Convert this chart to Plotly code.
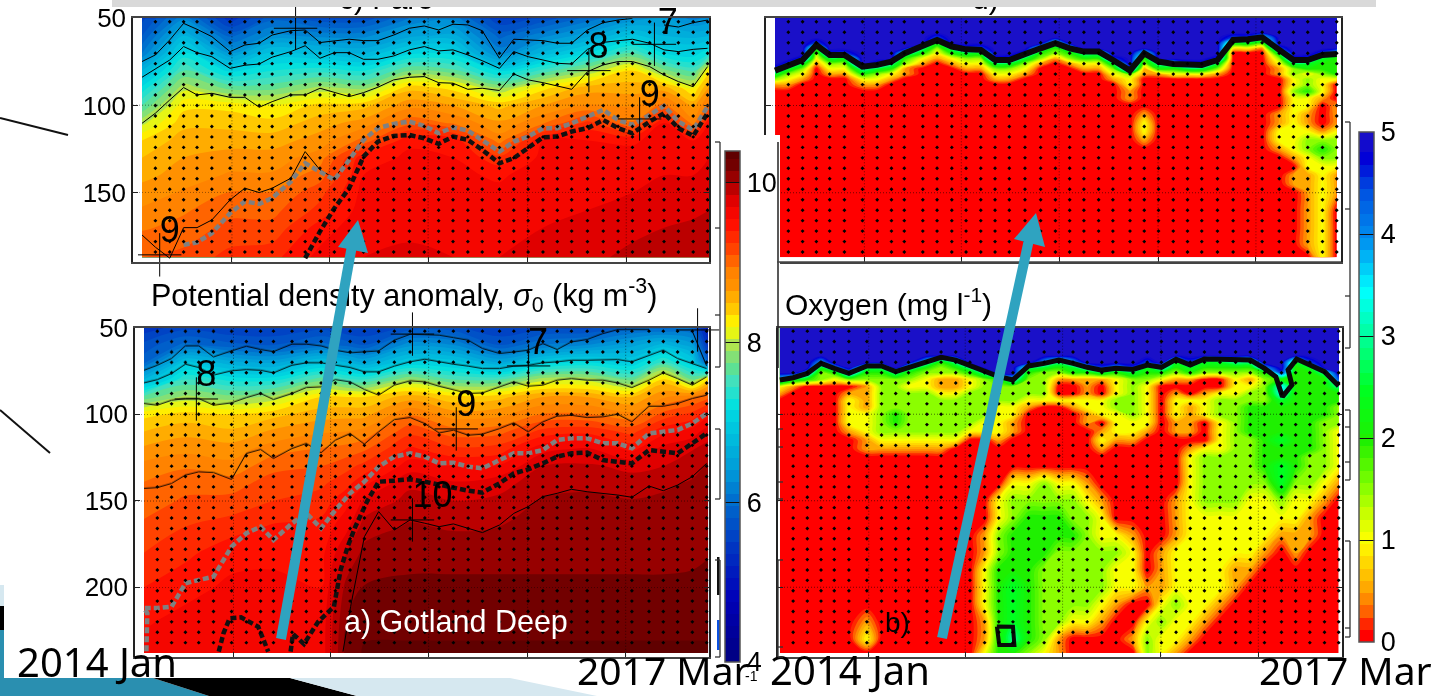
import numpy as np
import plotly.graph_objects as go

W, H = 1443, 696

# ---------- shared sampling ----------
cast_days = [0, 28, 58, 87, 115, 146, 184, 215, 245, 272, 311, 341, 372, 402, 433, 463, 493, 526, 559, 590,
             620, 650, 681, 711, 747, 777, 807, 838, 868, 898, 931, 964, 995, 1025, 1061, 1091, 1121, 1152, 1182]
sample_depths_shallow = [52, 58, 64, 70, 76, 82, 88, 94, 100, 106, 112, 118, 124, 130, 136, 142, 148, 154, 160,
                         166, 172, 178, 184]
sample_depths_deep = sample_depths_shallow + [190, 196, 202, 208, 214, 220, 226, 232]
tick_days = [188, 392, 598, 806, 1012]
density_ticks = [4, 6, 8, 10]
oxygen_ticks = [0, 1, 2, 3, 4, 5]

# ---------- density fields (columns of sigma-0 by depth) ----------
faro_density_days = [0, 87, 184, 272, 372, 463, 559, 650, 747, 838, 931, 1025, 1091, 1152, 1185]
faro_density_depths = [50, 60, 70, 80, 90, 100, 110, 120, 130, 140, 150, 160, 170, 187]
faro_density = [
    [5.6, 5.8, 6.1, 6.7, 7.2, 7.6, 8, 8.35, 8.5, 8.6, 8.72, 8.82, 8.93, 9.1],
    [6.2, 6.7, 7.2, 7.6, 8, 8.3, 8.45, 8.58, 8.65, 8.72, 8.82, 8.93, 9, 9.15],
    [5.4, 5.9, 6.4, 7.1, 7.7, 8.3, 8.45, 8.58, 8.72, 8.82, 8.96, 9.05, 9.15, 9.3],
    [5.9, 6.3, 6.9, 7.3, 7.7, 8.2, 8.4, 8.58, 8.72, 8.82, 8.96, 9.05, 9.15, 9.35],
    [5.7, 6.2, 6.8, 7.4, 7.95, 8.4, 8.58, 8.72, 8.88, 9.03, 9.2, 9.3, 9.47, 9.6],
    [5.7, 6.2, 6.7, 7.3, 7.85, 8.45, 8.72, 9, 9.5, 9.55, 9.6, 9.63, 9.66, 9.7],
    [6.1, 6.5, 7.1, 7.75, 8.45, 8.75, 9.05, 9.53, 9.57, 9.6, 9.62, 9.65, 9.68, 9.72],
    [6.2, 6.6, 7.1, 7.65, 8.3, 8.65, 8.93, 9.5, 9.55, 9.58, 9.6, 9.63, 9.66, 9.7],
    [5.5, 5.9, 6.2, 7.1, 7.9, 8.45, 8.68, 8.88, 9.3, 9.53, 9.58, 9.62, 9.66, 9.7],
    [5.7, 6.2, 6.75, 7.5, 8.3, 8.65, 8.93, 9.55, 9.6, 9.62, 9.65, 9.68, 9.7, 9.75],
    [6, 6.5, 7.15, 7.9, 8.58, 8.82, 9.3, 9.55, 9.6, 9.63, 9.65, 9.7, 9.75, 9.8],
    [6.3, 6.9, 7.6, 8.35, 8.58, 8.78, 8.97, 9.53, 9.6, 9.65, 9.7, 9.75, 9.8, 9.9],
    [6.4, 6.7, 7.15, 7.8, 8.58, 9, 9.55, 9.6, 9.65, 9.7, 9.75, 9.8, 9.85, 9.95],
    [6.2, 6.65, 7.05, 7.55, 8.2, 8.6, 8.88, 9.55, 9.6, 9.7, 9.75, 9.8, 9.9, 10],
    [6.3, 6.7, 7.3, 8.3, 8.68, 9, 9.55, 9.6, 9.7, 9.75, 9.8, 9.85, 9.9, 10],
]
gotland_density_days = [0, 87, 184, 272, 372, 425, 463, 559, 650, 747, 838, 931, 1025, 1091, 1152, 1185]
gotland_density_depths = [50, 60, 70, 80, 90, 100, 110, 120, 130, 140, 150, 165, 180, 200, 220, 238]
gotland_density = [
    [5.4, 5.7, 5.9, 6.7, 7.65, 8.3, 8.5, 8.68, 8.85, 8.96, 9.03, 9.13, 9.25, 9.4, 9.53, 9.6],
    [5.6, 6, 6.9, 7.45, 7.95, 8.4, 8.6, 8.75, 8.93, 9.05, 9.12, 9.25, 9.36, 9.5, 9.6, 9.6],
    [5.5, 5.85, 6.6, 7.25, 7.8, 8.35, 8.53, 8.72, 8.85, 9.03, 9.15, 9.33, 9.5, 9.58, 9.62, 9.62],
    [5.5, 5.8, 6.5, 7.25, 7.95, 8.45, 8.68, 8.88, 9.05, 9.18, 9.25, 9.42, 9.52, 9.58, 9.6, 9.6],
    [5.6, 6, 6.9, 7.7, 8.35, 8.58, 8.78, 8.96, 9.1, 9.22, 9.32, 9.45, 9.5, 9.55, 9.6, 9.6],
    [5.5, 5.9, 6.7, 7.5, 8.35, 8.6, 8.8, 9, 9.2, 9.35, 9.5, 9.65, 9.85, 10.05, 10.15, 10.2],
    [5.5, 5.8, 6.55, 7.45, 8.35, 8.6, 8.85, 9.07, 9.3, 9.52, 9.73, 9.92, 10.05, 10.16, 10.26, 10.32],
    [5.7, 6.35, 7, 7.9, 8.58, 8.93, 9.2, 9.43, 9.63, 9.82, 9.9, 10.02, 10.1, 10.18, 10.27, 10.32],
    [5.7, 6.25, 6.95, 7.6, 8.4, 8.72, 9.02, 9.28, 9.55, 9.72, 9.85, 9.98, 10.1, 10.18, 10.27, 10.32],
    [5.5, 5.8, 6.55, 7.6, 8.45, 8.75, 9.05, 9.32, 9.57, 9.8, 9.88, 10, 10.1, 10.18, 10.27, 10.32],
    [5.6, 6.1, 7, 8, 8.65, 8.96, 9.3, 9.65, 9.85, 9.93, 10.02, 10.05, 10.1, 10.18, 10.27, 10.32],
    [5.6, 6.25, 7.15, 8, 8.65, 8.96, 9.35, 9.72, 9.87, 9.97, 10.03, 10.05, 10.1, 10.18, 10.27, 10.32],
    [5.9, 6.5, 7, 7.7, 8.5, 8.85, 9.2, 9.5, 9.82, 9.9, 10.01, 10.04, 10.1, 10.18, 10.27, 10.32],
    [5.9, 6.75, 7.5, 8.4, 8.78, 9.15, 9.5, 9.75, 9.85, 9.97, 10.03, 10.05, 10.1, 10.18, 10.27, 10.32],
    [5.9, 6.45, 7, 7.75, 8.93, 9.3, 9.62, 9.84, 9.94, 10.02, 10.05, 10.07, 10.12, 10.18, 10.27, 10.32],
    [5.1, 5.4, 5.8, 8.4, 9.05, 9.52, 9.78, 9.9, 10.02, 10.05, 10.07, 10.1, 10.14, 10.2, 10.27, 10.32],
]

# ---------- oxygen fields (rows by depth, columns = cast_days, in units of 0.5 mg/l) ----------
faro_oxygen_depths = [50, 55, 58, 61, 64, 67, 70, 73, 76, 79, 82, 85, 88, 92, 96, 100, 105, 110, 115, 120, 125,
                      130, 135, 140, 145, 150, 160, 170, 180, 187]
faro_oxygen = [
    [10] * 39, [10] * 39, [10] * 39,
    [10] * 11 + [9] + [10] * 19 + [9, 9, 7] + [10] * 5,
    [10, 10, 10, 9, 10, 10, 10, 10, 10, 10, 10, 5, 10, 10, 10, 10, 10, 10, 10, 7, 10, 10, 10, 10, 10, 10, 10, 10, 10, 10, 10, 5, 5, 4, 10, 10, 10, 10, 10],
    [10, 10, 10, 5, 10, 10, 10, 10, 10, 10, 6, 3, 6, 9, 9, 10, 10, 10, 7, 4, 7, 10, 10, 10, 10, 10, 10, 10, 10, 10, 10, 2, 2, 1, 9, 10, 10, 10, 10],
    [10, 10, 10, 3, 9, 9, 10, 10, 10, 7, 4, 2, 4, 5, 5, 10, 10, 9, 4, 3, 4, 6, 6, 10, 10, 7, 10, 10, 10, 10, 10, 0, 0, 0, 5, 10, 10, 9, 7],
    [10, 10, 9, 2, 5, 5, 10, 10, 10, 4, 2, 1, 2, 3, 3, 9, 9, 5, 3, 1, 3, 4, 4, 9, 10, 4, 10, 10, 10, 10, 9, 0, 0, 0, 3, 9, 9, 5, 4],
    [10, 9, 5, 1, 3, 3, 10, 9, 6, 3, 1, 0, 1, 2, 2, 5, 5, 3, 1, 0, 1, 2, 2, 5, 10, 3, 6, 7, 9, 9, 5, 0, 0, 0, 2, 5, 5, 4, 4],
    [9, 5, 3, 0, 2, 2, 6, 5, 4, 1, 0, 0, 0, 1, 1, 3, 3, 2, 0, 0, 0, 1, 1, 3, 9, 1, 4, 4, 5, 5, 3, 0, 0, 0, 1, 3, 4, 4, 4],
    [5, 3, 2, 0, 1, 1, 4, 3, 2, 1, 0, 0, 0, 0, 0, 2, 2, 1, 0, 0, 0, 0, 0, 2, 3, 1, 1, 2, 2, 2, 1, 0, 0, 0, 1, 3, 2, 3, 4],
    [3, 2, 1, 0, 0, 0, 2, 2, 1, 0, 0, 0, 0, 0, 0, 1, 1, 0, 0, 0, 0, 0, 0, 1, 2, 0, 0, 0, 0, 0, 0, 0, 0, 0, 0, 2, 3, 2, 2],
    [1, 1, 0, 0, 0, 0, 1, 1, 0, 0, 0, 0, 0, 0, 0, 0, 0, 0, 0, 0, 0, 0, 0, 0, 2, 0, 0, 0, 0, 0, 0, 0, 0, 0, 0, 2, 3, 2, 0],
    [0] * 24 + [1] + [0] * 8 + [0, 0, 3, 4, 2, 0],
    [0] * 24 + [1] + [0] * 8 + [0, 0, 2, 2, 1, 0],
    [0] * 33 + [0, 0, 2, 2, 0, 1],
    [0] * 25 + [1] + [0] * 7 + [0, 1, 2, 1, 0, 1],
    [0] * 25 + [2] + [0] * 7 + [0, 1, 2, 1, 0, 1],
    [0] * 25 + [2] + [0] * 7 + [0, 2, 2, 2, 1, 2],
    [0] * 25 + [1] + [0] * 7 + [0, 2, 2, 3, 3, 3],
    [0] * 33 + [0, 1, 2, 3, 4, 3],
    [0] * 33 + [0, 0, 1, 2, 3, 3],
    [0] * 33 + [0, 0, 0, 2, 2, 2],
    [0] * 33 + [0, 0, 1, 1, 2, 1],
    [0] * 33 + [0, 0, 1, 1, 2, 1],
    [0] * 33 + [0, 0, 0, 1, 2, 1],
    [0] * 33 + [0, 0, 0, 1, 2, 0],
    [0] * 33 + [0, 0, 0, 1, 2, 0],
    [0] * 33 + [0, 0, 0, 1, 2, 0],
    [0] * 33 + [0, 0, 0, 0, 2, 0],
]
gotland_oxygen_depths = [50, 60, 66, 70, 73, 76, 80, 84, 88, 92, 96, 100, 105, 110, 115, 120, 125, 130, 140, 150,
                         160, 170, 180, 190, 200, 210, 220, 230, 238]
gotland_oxygen = [
    [10] * 39, [10] * 39, [10] * 39,
    [10, 10, 10, 8, 10, 10, 10, 10, 10, 10, 7, 4, 6, 10, 10, 10, 10, 10, 8, 6, 8, 10, 10, 10, 10, 9, 10, 5, 9, 5, 5, 6, 6, 10, 10, 5, 9, 10, 10],
    [10, 10, 10, 5, 8, 10, 6, 6, 10, 7, 4, 3, 4, 6, 10, 10, 10, 6, 5, 4, 5, 7, 9, 8, 9, 5, 7, 4, 5, 4, 4, 4, 4, 8, 10, 4, 5, 10, 10],
    [10, 10, 8, 3, 4, 8, 4, 4, 6, 4, 3, 3, 3, 4, 6, 10, 10, 4, 3, 3, 4, 4, 5, 4, 5, 4, 4, 3, 4, 3, 3, 3, 3, 4, 9, 4, 4, 6, 10],
    [7, 5, 4, 3, 2, 3, 3, 3, 3, 3, 2, 1, 1, 2, 3, 4, 7, 3, 3, 1, 1, 1, 1, 2, 3, 3, 2, 1, 1, 0, 0, 2, 1, 3, 4, 4, 4, 4, 9],
    [2, 1, 0, 0, 0, 0, 1, 3, 3, 2, 2, 1, 1, 2, 3, 3, 3, 3, 3, 0, 0, 1, 0, 2, 3, 2, 0, 0, 0, 0, 0, 2, 2, 3, 7, 4, 4, 4, 6],
    [1, 0, 0, 0, 0, 1, 1, 3, 3, 3, 3, 2, 2, 3, 3, 3, 3, 3, 3, 0, 0, 1, 0, 2, 3, 2, 0, 1, 0, 1, 2, 2, 3, 3, 7, 4, 4, 4, 4],
    [0, 0, 0, 0, 0, 2, 1, 3, 3, 3, 3, 3, 3, 3, 3, 3, 3, 2, 2, 2, 2, 2, 2, 3, 3, 2, 0, 2, 2, 2, 3, 3, 3, 3, 5, 4, 4, 4, 4],
    [0, 0, 0, 0, 0, 2, 1, 3, 3, 3, 3, 3, 3, 3, 3, 2, 2, 1, 0, 0, 1, 2, 2, 3, 3, 2, 0, 2, 1, 2, 3, 3, 4, 4, 4, 4, 4, 4, 3],
    [0, 0, 0, 0, 0, 2, 2, 3, 4, 3, 3, 3, 3, 3, 3, 2, 2, 0, 0, 0, 0, 1, 2, 2, 3, 2, 0, 2, 1, 2, 3, 3, 4, 4, 4, 4, 4, 4, 3],
    [0, 0, 0, 0, 0, 2, 2, 3, 4, 3, 3, 3, 3, 3, 2, 2, 1, 0, 0, 0, 0, 1, 0, 2, 2, 2, 0, 1, 1, 0, 2, 3, 4, 4, 4, 4, 4, 3, 3],
    [0, 0, 0, 0, 0, 1, 2, 3, 3, 3, 3, 3, 3, 2, 2, 2, 1, 0, 0, 0, 0, 0, 1, 2, 2, 1, 0, 1, 1, 0, 2, 3, 4, 4, 4, 4, 4, 3, 2],
    [0, 0, 0, 0, 0, 0, 1, 2, 2, 2, 2, 2, 2, 0, 0, 1, 0, 0, 0, 0, 0, 0, 2, 1, 1, 0, 0, 0, 0, 0, 2, 3, 3, 4, 5, 4, 4, 3, 2],
    [0, 0, 0, 0, 0, 0, 1, 1, 1, 1, 1, 1, 0, 0, 0, 0, 0, 0, 0, 0, 0, 0, 1, 0, 0, 0, 0, 0, 1, 2, 2, 3, 3, 4, 4, 4, 4, 3, 2],
    [0] * 28 + [2, 3, 3, 3, 3, 4, 4, 4, 3, 3, 2],
    [0] * 28 + [2, 3, 3, 3, 3, 4, 5, 4, 3, 3, 2],
    [0] * 16 + [2, 2, 3, 2, 2, 1] + [0] * 6 + [2, 3, 3, 3, 3, 3, 5, 3, 3, 2, 1],
    [0] * 15 + [2, 3, 3, 3, 3, 3, 2, 1] + [0] * 4 + [1, 2, 3, 3, 3, 2, 2, 3, 2, 2, 1, 0],
    [0] * 15 + [2, 3, 4, 4, 4, 3, 3, 2] + [0] * 4 + [1, 2, 2, 2, 2, 2, 2, 2, 2, 1, 0, 0],
    [0] * 14 + [1, 3, 4, 4, 4, 4, 4, 3, 2, 2, 1, 0, 0, 1, 2, 2, 2, 2, 2, 2, 1, 1, 1, 0, 0],
    [0] * 14 + [1, 3, 4, 4, 4, 3, 3, 3, 3, 3, 2, 0, 1, 2, 2, 2, 2, 2, 2, 1, 0, 1, 0, 0, 0],
    [0] * 14 + [2, 4, 4, 4, 3, 3, 3, 3, 3, 2, 2, 0, 1, 2, 2, 2, 2, 1, 1] + [0] * 6,
    [0] * 14 + [2, 4, 5, 4, 3, 3, 3, 3, 3, 2, 2, 1, 1, 2, 2, 2, 2, 1] + [0] * 7,
    [0] * 14 + [2, 4, 5, 4, 3, 3, 3, 3, 2, 1, 0, 0, 2, 3, 2, 2, 1] + [0] * 8,
    [0, 0, 0, 0, 0, 0, 1, 0, 0, 0, 0, 0, 0, 0] + [1, 4, 5, 4, 3, 3, 2, 2, 1, 0, 0, 2, 3, 2, 2, 1] + [0] * 9,
    [0, 0, 0, 0, 0, 0, 2, 0, 0, 0, 0, 0, 0, 0] + [1, 4, 6, 4, 3, 1, 0, 0, 0, 0, 1, 3, 2, 2, 1] + [0] * 10,
    [0] * 14 + [2, 4, 4, 3, 2, 1, 0, 0, 0, 0, 0, 3, 2, 1, 0] + [0] * 10,
]

# ---------- contour lines: depth at each cast ----------
N = None
faro_line_a = [74.8, 71, 62.4, 52.9, 56.3, 60.5, 69.1, 65.3, 64.3, 59.6, 57.1, 56.7, 63.9, 62.8, 62, 62.8, 62.8, 59.6, 55.7, 54.4,
               56.7, 53.4, 53.8, 57.1, 72.9, 62, 62.4, 62.8, 64.3, 64.3, 56.7, 52.5, 51, 50, N, 53.8, 55, 52.5, 51]
faro_line_b = [83.8, 79.2, 73.9, 66.2, 69.7, 72, 78.7, 76.9, 76.2, 72.3, 69.1, 65.7, 72.9, 69.7, 69.7, 73.5, 73.5, 71.6, 68.1, 66.2,
               68.7, 68.1, 71, 74.3, 78.7, 69.1, 72, 73.9, 75.8, 76.2, 67.8, 63.8, 63, 62, 64.3, 68.1, 69.1, 67.8, 67.2]
faro_line_c = [110.2, 104.4, 96.8, 89.7, 93.9, 93, 95.3, 95.3, 101, 97.8, 93.9, 93.9, 90.1, 92.6, 94.9, 92.6, 89.5, 85.3, 83.8, 83.4,
               86.9, 87.2, 90.7, 90.1, 91.4, 81.9, 85.3, 86.9, 88.8, 90.7, 80.6, 76.7, 74.8, 74.8, 77.7, 82.5, 86.3, 89.2, 77.7]
faro_line_d = [174.2, 181.2, 187.5, 170, 170, 165.6, 154.1, 147.4, 149.9, 147.4, 141.7, 126.4, 136.9, 141.7, 130.2, 119.2]
faro_gray = [N, N, N, 179.9, 178.5, 173.2, 161.7, 155, 156.4, 153.1, 143.6, 133.1, 137.9, 142.6, 131.2, 119.7, 113, 110.5, 109.2, 111.7,
             115.9, 112.5, 114.4, 119.7, 126.4, 120.7, 117.8, 113, 113, 110.2, 106.3, 102.5, 108.3, 111.1, 105.4, 100.2, 109.2, 114, 100.6]
faro_black = [N] * 11 + [187.5, 172.2, 158.9, 147.4, 129.3, 120.7, 117.4, 116.9, 118.8, 122, 117.8, 119.7, 125.4, 133.1, 130.2, 124.5,
                         118.2, 117.8, 114.9, 113, 108.3, 113, 115.9, 109.2, 104.4, 113, 117.4, 104.4]

gotland_line_a = [74.5, 71.6, 67.7, 60.4, 60.4, 66.8, 63.3, 60.6, 62.5, 63.7, 59.4, 59.4, 60.4, 62.9, 64.4, 63.9, 63.3, 57.1, 53.7, 53.9,
                  54.2, 55.6, 57.1, 61.9, 64.8, 63.9, 62.9, 59.1, 62.5, 58.1, 56.7, 53.3, 51, 51, 51, N, N, 52, 72]
gotland_line_b = [81.8, 79.9, 76.4, 71, 72.9, 77.3, 74.8, 74.1, 74.5, 76, 71.6, 70.2, 70.2, 71.6, 72.9, 75.4, 75.4, 72.1, 69.6, 68.1,
                  69.6, 71, 72.1, 73.5, 73.5, 72.1, 71.6, 70.2, 69.6, 68.7, 68.7, 68.3, 68.3, 69.6, 65.8, 62.9, 67.7, 70.6, 73.5]
gotland_line_c = [93.7, 94.7, 91.8, 90.8, 90.8, 94.7, 93.3, 90.3, 87.9, 91.4, 87.9, 84.5, 84.1, 79.9, 81.2, 85.6, 88.9, 83.1, 80.6, 81.2,
                  83.7, 85.6, 87.9, 87.6, 84.1, 81.2, 83.7, 83.1, 80.2, 79.3, 80.2, 80.2, 81.8, 84.5, 80.2, 76, 79.3, 83.1, 78.3]
gotland_line_d = [142.8, 142.3, 139.9, 135.1, 133.2, 133.6, 137.6, 122.6, 120.3, 125.5, 119.7, 116.8, 122.2, 114.9, 111.1, 117.2, 110.1, 103, 101.8, 105.3,
                  110.7, 109.1, 112, 111.4, 108.2, 104.9, 110.1, 104.3, 101, 100.5, 101.8, 101.4, 99.9, 104.3, 95.3, 95.3, 93.7, 90.8, 88.9]
gotland_gray_days = [5, 7, 0] + cast_days[1:]
gotland_gray = [237, 215, 212, 212, 211.2, 197.7, 195.8, 193.9, 176.5, 168.8, 165, 172.7, 163.1, 157.3, 165.9, 155.4, 145.7, 139, 130.3, 124.5, 122.6,
                124.5, 128.4, 128, 130.3, 131.3, 126.5, 122.6, 122.6, 120.7, 114.9, 113.9, 113.9, 116.8, 116.8, 119.7, 111.1, 110.1, 109.1, 105.3, 99.5]
gotland_black1_days = [157, 167, 180, 204, 240, 261]
gotland_black1 = [237.2, 226.6, 217.9, 217.4, 222.8, 237.2]
gotland_black2_days = [308, 313, 336, 366, 399, 413, 428, 444, 470, 493, 526, 559, 590, 620, 650, 681, 711, 747, 777, 807, 838, 868, 898, 931, 964, 995, 1025,
                       1061, 1091, 1121, 1152, 1182]
gotland_black2 = [237.2, 227, 232.8, 219.9, 211.2, 190, 176.5, 165, 149.6, 139, 138.4, 137.6, 139, 140.9, 142.8, 144.2, 145.3, 139.9, 134.2, 131.9, 128.4, 124.5,
                  122.6, 122.2, 126.5, 127.4, 128.4, 120.7, 121.6, 122.6, 116.8, 111]
gotland_line_e_days = [418, 434, 463, 493, 526, 559, 590, 620, 650, 681, 711, 747, 777, 807, 838, 868, 898, 931, 964, 995, 1025, 1061, 1091, 1121, 1152, 1182]
gotland_line_e = [237.2, 211.2, 170.8, 156.3, 166.9, 161.1, 163, 165, 163.4, 165.9, 168.4, 164, 157.3, 153.4, 147.6, 145.7, 143.4, 144.8, 145.7, 146.7, 148,
                  141.5, 144.2, 140.9, 136.1, 128.4]

faro_oxy_line = [80, 76.7, 73.9, 65.3, 71, 71, 77.7, 76.7, 74.8, 70.1, 66.2, 62.4, 66.2, 67.8, 68.1, 73.9, 73.9, 71, 67.2, 64.3,
                 67.2, 69.1, 69.1, 73.9, 80, 70.1, 74.8, 76.2, 76.7, 76.7, 73.9, 62.4, 62, 60.9, 68.1, 73.9, 73.9, 71, 70.4]
gotland_oxy_days = cast_days[:34] + [1049, 1063, 1083, 1075, 1093, 1121, 1152, 1182]
gotland_oxy_line = [80.2, 78.9, 76.4, 70.6, 73.5, 76.4, 72.1, 72.1, 75.4, 72.9, 69.6, 67.1, 68.7, 72.1, 75.4, 78.3, 80.2, 72.1, 70.6, 68.7,
                    70.6, 72.9, 74.5, 73.5, 74.1, 71.6, 72.9, 68.3, 71.6, 68.1, 68.3, 68.7, 68.7, 73.5, 78.3, 89.9, 83.1, 74.4, 68.1, 71.6, 75.4, 83.7]
gotland_loop_days = [459, 493, 496, 464, 459]
gotland_loop_depths = [222.7, 222.8, 233.4, 233.4, 222.7]

# ---------- clabel crosses and labels ----------
faro_cross_days = [321, 1071, 934, 1040, 37]
faro_cross_depths = [55.7, 64.9, 80, 107.7, 185.6]
faro_label_days = [954, 1061, 58, 1099]
faro_label_depths = [67.8, 94.9, 173.2, 53.8]
faro_labels = ["8", "9", "9", "7"]
gotland_cross_days = [564, 1163, 808, 110, 656, 564]
gotland_cross_depths = [53.7, 51.3, 72.1, 91.2, 108.5, 161.1]
gotland_label_days = [828, 131, 677, 606]
gotland_label_depths = [60, 78.3, 96, 148.6]
gotland_labels = ["7", "8", "9", "10"]

# ---------- colour scales ----------
density_stops = [4, 4.8, 5.4, 6, 6.4, 7.1, 7.25, 7.57, 7.75, 8, 8.15, 8.27, 8.5, 8.77, 8.98, 9.27, 9.56, 9.8, 10, 10.2, 10.4]
density_colors = ["#000080", "#0000b8", "#0030c0", "#0068cc", "#0098d8", "#00d0e0", "#00e0e0", "#40e0c0", "#60e090", "#a0e060",
                  "#d8f020", "#ffff00", "#ffc800", "#ff9400", "#ff8000", "#ff4000", "#ff1000", "#f00000", "#c00000", "#900000", "#600000"]
oxygen_stops = [0, .12, .25, .5, .75, 1, 1.25, 1.5, 2, 2.5, 3, 3.5, 4, 4.5, 4.8, 5]
oxygen_colors = ["#ff0000", "#ff0000", "#ff5000", "#ffa000", "#ffd000", "#ffff00", "#d0ff00", "#90ff00", "#20f000", "#00ff20",
                 "#00ff90", "#00ffff", "#0090f0", "#0050e0", "#0000d8", "#1a10c8"]
density_scale = [[(v - 4) / 6.4, c] for v, c in zip(density_stops, density_colors)]
oxygen_scale = [[v / 5, c] for v, c in zip(oxygen_stops, oxygen_colors)]

LABEL_FONT = "Liberation Sans"
DATE_FONT = "Noto Sans"

fig = go.Figure()


def fx(p):
    return p / W


def fy(p):
    return 1 - p / H


# panel frames in page pixels; ranges in days / depth
panels = {
    "": dict(px=(133, 709), py=(18.3, 262), xr=[-18.8, 1185], yr=[189.7, 50], yt=[50, 100, 150], labels=True),
    "2": dict(px=(135, 709), py=(327.7, 657), xr=[-18.9, 1187], yr=[240.3, 50], yt=[50, 100, 150, 200], labels=True),
    "3": dict(px=(766, 1341), py=(18.3, 262), xr=[-19, 1191], yr=[189.7, 50], yt=[50, 100, 150], labels=False),
    "4": dict(px=(778, 1342), py=(327.7, 657), xr=[-4, 1189], yr=[240.3, 50], yt=[50, 100, 150, 200], labels=False),
}
layout_axes = {}
for k, p in panels.items():
    layout_axes["xaxis" + k] = dict(
        domain=[fx(p["px"][0]), fx(p["px"][1])], range=p["xr"], anchor="y" + k, tickvals=tick_days,
        showticklabels=False, ticks="inside", ticklen=5, tickcolor="#222", showgrid=False, zeroline=False,
        showline=True, linecolor="#444", linewidth=1.5, mirror=True)
    layout_axes["yaxis" + k] = dict(
        domain=[fy(p["py"][1]), fy(p["py"][0])], range=p["yr"], anchor="x" + k, tickvals=p["yt"],
        showticklabels=p["labels"], ticks="inside", ticklen=5, tickcolor="#222", showgrid=False, zeroline=False,
        showline=True, linecolor="#222", linewidth=1.5, mirror="ticks",
        tickfont=dict(family=LABEL_FONT, size=26, color="black"))
layout_axes["xaxis5"] = dict(domain=[0, 1], range=[0, W], anchor="y5", visible=False, fixedrange=True)
layout_axes["yaxis5"] = dict(domain=[0, 1], range=[H, 0], anchor="x5", visible=False, fixedrange=True)


def field(k, x, y, z, scale, zmin, zmax, size, cbar=None):
    fig.add_trace(go.Contour(
        x=x, y=y, z=z, xaxis="x" + k, yaxis="y" + k, colorscale=scale, zmin=zmin, zmax=zmax,
        contours=dict(start=zmin, end=zmax, size=size, coloring="fill", showlines=False),
        line=dict(width=0), showscale=cbar is not None, colorbar=cbar, hoverinfo="skip"))


def bar(x_left, width, top, bottom, ticks, prefix=""):
    return dict(x=fx(x_left), xanchor="left", xref="paper", thickness=width, thicknessmode="pixels",
                y=fy(bottom), yanchor="bottom", yref="paper", len=bottom - top, lenmode="pixels",
                xpad=0, ypad=0, tickvals=ticks, ticks="inside", ticklen=width, tickwidth=1, tickcolor="#111",
                tickfont=dict(family=LABEL_FONT, size=27, color="black"), outlinecolor="#555", outlinewidth=1.5,
                ticklabelposition="outside", borderwidth=0, tickprefix=prefix)


field("", faro_density_days, faro_density_depths, np.array(faro_density).T.tolist(), density_scale, 4, 10.4, 0.15)
field("2", gotland_density_days, gotland_density_depths, np.array(gotland_density).T.tolist(), density_scale, 4, 10.4, 0.15,
      bar(725, 15, 150.7, 662, density_ticks, "\u2009"))
field("3", cast_days, faro_oxygen_depths, (np.array(faro_oxygen) * 0.5).tolist(), oxygen_scale, 0, 5, 0.12)
field("4", cast_days, gotland_oxygen_depths, (np.array(gotland_oxygen) * 0.5).tolist(), oxygen_scale, 0, 5, 0.12,
      bar(1358.5, 15, 131.7, 642, oxygen_ticks))


def line(k, x, y, color="black", width=1, dash=None):
    fig.add_trace(go.Scatter(x=x, y=y, xaxis="x" + k, yaxis="y" + k, mode="lines", hoverinfo="skip",
                             line=dict(color=color, width=width, dash=dash), showlegend=False))


# dotted grid
for k, p in panels.items():
    gx, gy = [], []
    for t in tick_days:
        gx += [t, t, None]
        gy += [p["yr"][1], p["yr"][0], None]
    for d in p["yt"][1:]:
        gx += [p["xr"][0], p["xr"][1], None]
        gy += [d, d, None]
    fig.add_trace(go.Scatter(x=gx, y=gy, xaxis="x" + k, yaxis="y" + k, mode="lines", hoverinfo="skip", opacity=0.55,
                             line=dict(color="black", width=1, dash="1px,2px"), showlegend=False))

# thin isopycnals and dashes
for y in (faro_line_a, faro_line_b, faro_line_c):
    line("", cast_days, y)
line("", cast_days[:len(faro_line_d)], faro_line_d)
for y in (gotland_line_a, gotland_line_b, gotland_line_c, gotland_line_d):
    line("2", cast_days, y)
line("2", gotland_line_e_days, gotland_line_e)
DASH = "6px,3px"
line("", cast_days, faro_gray, "#808080", 4.5, DASH)
line("", cast_days, faro_black, "#111", 4.5, DASH)
line("2", gotland_gray_days, gotland_gray, "#808080", 4.5, DASH)
line("2", gotland_black1_days, gotland_black1, "#111", 4.5, DASH)
line("2", gotland_black2_days, gotland_black2, "#111", 4.5, DASH)
line("3", cast_days, faro_oxy_line, "#0a0a0a", 6)
line("4", gotland_oxy_days, gotland_oxy_line, "#0a0a0a", 5)
line("4", gotland_loop_days, gotland_loop_depths, "#0a0a0a", 4)

# sample dots
for k, depths in (("", sample_depths_shallow), ("2", sample_depths_deep), ("3", sample_depths_shallow), ("4", sample_depths_deep)):
    xs = [d for d in cast_days[1:] for _ in depths]
    ys = [z for _ in cast_days[1:] for z in depths]
    fig.add_trace(go.Scatter(x=xs, y=ys, xaxis="x" + k, yaxis="y" + k, mode="markers", hoverinfo="skip", showlegend=False,
                             marker=dict(symbol="diamond", size=3, color="black", line=dict(width=0))))

# clabel crosses and numbers
for k, cx, cy, lx, ly, lt in (("", faro_cross_days, faro_cross_depths, faro_label_days, faro_label_depths, faro_labels),
                              ("2", gotland_cross_days, gotland_cross_depths, gotland_label_days, gotland_label_depths, gotland_labels)):
    fig.add_trace(go.Scatter(x=cx, y=cy, xaxis="x" + k, yaxis="y" + k, mode="markers", cliponaxis=False, hoverinfo="skip", showlegend=False,
                             marker=dict(symbol="cross-thin", size=31, color="black", line=dict(width=1, color="black"))))
    fig.add_trace(go.Scatter(x=lx, y=ly, xaxis="x" + k, yaxis="y" + k, mode="text", text=lt, cliponaxis=False, hoverinfo="skip", showlegend=False,
                             textposition="middle center", textfont=dict(family=LABEL_FONT, size=36, color="black")))


# page-level captions
def caption(x, y, text, size, color="black", family=LABEL_FONT, pos="middle right"):
    fig.add_trace(go.Scatter(x=[x], y=[y], xaxis="x5", yaxis="y5", mode="text", text=[text], cliponaxis=False, hoverinfo="skip",
                             showlegend=False, textposition=pos, textfont=dict(family=family, size=size, color=color)))


caption(151, 298, "Potential density anomaly, <i>σ</i><sub>0</sub> (kg m<sup>-3</sup>)", 30.5)
caption(785, 307, "Oxygen (mg l<sup>-1</sup>)", 30)
caption(344, 624, "a) Gotland Deep", 30.5, "white")
caption(885, 625, "b)", 28)
caption(339, 1, "c) Faro", 30)
caption(972, 1, "d)", 30)
caption(745, 677, "-1", 14)
caption(17, 667, "2014 Jan", 40, family=DATE_FONT)
caption(577, 675, "2017 Mar", 39, family=DATE_FONT)
caption(770, 675, "2014 Jan", 40, family=DATE_FONT)
caption(1259, 675, "2017 Mar", 39, family=DATE_FONT)


def poly(points, fill, layer="below"):
    path = "M " + " L ".join(f"{fx(a):.5f},{fy(b):.5f}" for a, b in points) + " Z"
    return dict(type="path", path=path, xref="paper", yref="paper", fillcolor=fill, line=dict(width=0), layer=layer)


def seg(x0, y0, x1, y1, color="#333", width=1, layer="above"):
    return dict(type="line", x0=fx(x0), x1=fx(x1), y0=fy(y0), y1=fy(y1), xref="paper", yref="paper", layer=layer,
                line=dict(color=color, width=width))


def bracket(x, top, bottom, ticks, toward=-5):
    parts = [seg(x, top, x, bottom, "#333", 1.3), seg(x, top, x + toward, top, "#333", 1.3), seg(x, bottom, x + toward, bottom, "#333", 1.3)]
    parts += [seg(x, t, x + toward, t, "#333", 1.3) for t in ticks]
    return parts


TEAL = "#2fa3c0"
LIGHT = "#d6e8f0"
shapes = [
    # slide artwork behind the charts
    poly([(0, 585), (4, 585), (4, 606), (0, 606)], LIGHT),
    poly([(0, 606), (4, 606), (4, 630), (0, 630)], "#000000"),
    poly([(0, 630), (4, 630), (4, 696), (0, 696)], "#2a8fb0"),
    poly([(0, 678), (153, 678), (209, 696), (0, 696)], "#2a8fb0"),
    poly([(153, 678), (290, 678), (357, 696), (209, 696)], "#000000"),
    poly([(290, 678), (510, 678), (597, 696), (357, 696)], LIGHT),
    # overlay patches from the composed slide
    poly([(722, 135), (780, 135), (780, 264), (722, 264)], "#ffffff", "above"),
    poly([(112, 0), (1376, 0), (1376, 7), (112, 7)], "#d9d9d9", "above"),
    seg(0, 118, 68, 135, "#111", 2),
    seg(0, 410, 50, 453, "#111", 2),
    seg(778, 142, 778, 368, "#222", 1.5),
    seg(777, 262, 1341, 262, "#444", 1.5),
    poly([(717, 557), (719.5, 557), (719.5, 595), (717, 595)], "#111", "above"),
    poly([(717, 620), (719.5, 620), (719.5, 650), (717, 650)], "#0a50e0", "above"),
    # arrows
    seg(281, 639, 353, 240, TEAL, 10),
    poly([(358, 220), (338, 247), (368, 253)], TEAL, "above"),
    seg(942, 638, 1030, 235, TEAL, 10),
    poly([(1036, 213), (1014, 239), (1045, 247)], TEAL, "above"),
]
shapes += bracket(720, 142, 367, [228, 315])
shapes += bracket(720, 429, 499, [])
shapes += bracket(720, 560, 657, [])
shapes += bracket(778, 429, 499, [447, 482], toward=5)
shapes += bracket(778, 560, 657, [647], toward=5)
shapes += bracket(1350, 122, 348, [209, 296])
shapes += bracket(1350, 410, 480, [427, 462])
shapes += bracket(1350, 541, 637, [628])

fig.update_layout(width=W, height=H, margin=dict(l=0, r=0, t=0, b=0, pad=0, autoexpand=False), paper_bgcolor="white",
                  plot_bgcolor="rgba(0,0,0,0)", showlegend=False, shapes=shapes, **layout_axes)
fig.write_html("out.html", include_plotlyjs=True, config=dict(displayModeBar=False),
               post_script="document.body.style.margin='0';document.body.style.overflow='hidden';")
